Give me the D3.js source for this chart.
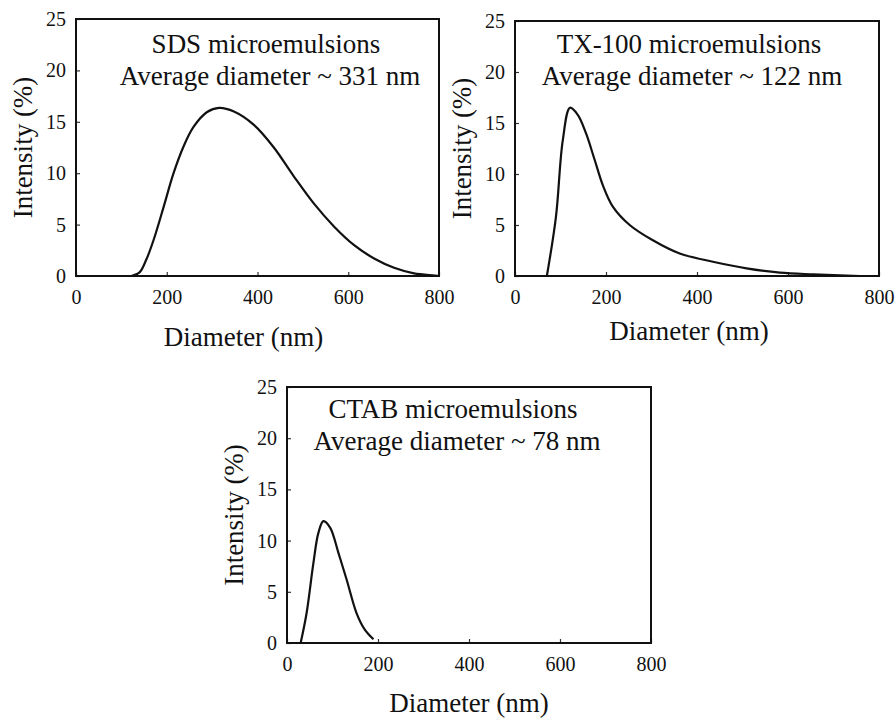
<!DOCTYPE html>
<html>
<head>
<meta charset="utf-8">
<script src="https://cdn.jsdelivr.net/npm/d3@7"></script>
<style>
  body { margin: 0; background: #fff; }
  svg text { font-family: "Liberation Serif", "Times New Roman", serif; fill: #111; }
</style>
</head>
<body>
<div class="content"></div>
<script>
// Define SVG area dimensions
var svgWidth = 896;
var svgHeight = 720;

// Data (diameter in nm, intensity in %)
var sdsDiameter = [122, 140, 155, 171, 193, 215, 237, 259, 289, 315, 348, 392, 436, 480, 524, 569, 613, 657, 701, 745, 790, 800];
var sdsIntensity = [0, 0.35, 1.6, 3.5, 6.7, 10.0, 12.6, 14.5, 15.95, 16.35, 16.0, 14.7, 12.5, 9.7, 7.06, 4.8, 3.0, 1.7, 0.8, 0.26, 0.05, 0];

var txDiameter = [70, 90, 105, 121, 138, 156, 175, 193, 215, 252, 303, 362, 435, 509, 582, 656, 758];
var txIntensity = [0, 5.8, 13.3, 16.5, 15.8, 14.0, 11.4, 8.9, 6.8, 5.0, 3.5, 2.2, 1.4, 0.75, 0.33, 0.16, 0];

var ctabDiameter = [30, 43, 58, 69, 80, 95, 113, 131, 153, 171, 190];
var ctabIntensity = [0, 2.9, 7.8, 10.75, 11.9, 11.25, 8.8, 6.2, 2.9, 1.3, 0.36];

// Axis ticks and labels
var xTicks = [0, 200, 400, 600, 800];
var yTicks = [0, 5, 10, 15, 20, 25];
var titles = ["SDS microemulsions", "TX-100 microemulsions", "CTAB microemulsions"];
var subtitles = ["Average diameter ~ 331 nm", "Average diameter ~ 122 nm", "Average diameter ~ 78 nm"];
var xLabel = "Diameter (nm)";
var yLabel = "Intensity (%)";

// Panel placement (box and text offsets)
var panels = [
  { left: 76, top: 19, width: 363, height: 257, t1x: 190, t2x: 194, tY: 34, xLabDx: -14, xLabY: 70 },
  { left: 515, top: 21, width: 364, height: 255, t1x: 174, t2x: 177, tY: 32, xLabDx: -8, xLabY: 64 },
  { left: 287, top: 387, width: 364, height: 256, t1x: 166, t2x: 170, tY: 31, xLabDx: 0, xLabY: 69 }
];
var series = [
  [sdsDiameter, sdsIntensity],
  [txDiameter, txIntensity],
  [ctabDiameter, ctabIntensity]
];

var svg = d3.select(".content")
  .append("svg")
  .attr("width", svgWidth)
  .attr("height", svgHeight);

function drawPanel(p, i) {
  var width = p.width;
  var height = p.height;

  var g = svg.append("g")
    .attr("transform", `translate(${p.left}, ${p.top})`);

  var x = d3.scaleLinear().domain([0, 800]).range([0, width]);
  var y = d3.scaleLinear().domain([0, 25]).range([height, 0]);

  // inward ticks on the bottom and left
  var bottomAxis = d3.axisBottom(x).tickValues(xTicks).tickSizeInner(-4).tickSizeOuter(0).tickPadding(13);
  var leftAxis = d3.axisLeft(y).tickValues(yTicks).tickSizeInner(-4).tickSizeOuter(0).tickPadding(10);

  var xAxis = g.append("g")
    .attr("transform", `translate(0, ${height})`)
    .call(bottomAxis);
  var yAxis = g.append("g").call(leftAxis);

  [xAxis, yAxis].forEach(function(ax) {
    ax.select(".domain").remove();
    ax.selectAll(".tick line").attr("stroke", "#333").attr("stroke-width", 1.2);
    ax.selectAll(".tick text")
      .style("font-family", "Liberation Serif, serif")
      .style("font-size", "20px")
      .attr("fill", "#111");
  });
  xAxis.selectAll(".tick text").attr("dy", "0.75em");

  // plot frame
  g.append("rect")
    .attr("x", 0)
    .attr("y", 0)
    .attr("width", width)
    .attr("height", height)
    .attr("fill", "none")
    .attr("stroke", "#111")
    .attr("stroke-width", 2);

  // curve
  var xs = series[i][0];
  var ys = series[i][1];
  var pts = xs.map(function(d, k) { return [d, ys[k]]; });
  var line = d3.line()
    .x(d => x(d[0]))
    .y(d => Math.min(y(d[1]), height))
    .curve(d3.curveCatmullRom.alpha(0.5));

  g.append("path")
    .datum(pts)
    .attr("d", line)
    .attr("fill", "none")
    .attr("stroke", "#111")
    .attr("stroke-width", 2.2)
    .attr("stroke-linejoin", "round");

  // titles inside the box
  g.append("text")
    .attr("x", p.t1x)
    .attr("y", p.tY)
    .attr("text-anchor", "middle")
    .style("font-size", "27px")
    .text(titles[i]);
  g.append("text")
    .attr("x", p.t2x)
    .attr("y", p.tY + 32)
    .attr("text-anchor", "middle")
    .style("font-size", "27px")
    .text(subtitles[i]);

  // axis labels
  g.append("text")
    .attr("x", width / 2 + p.xLabDx)
    .attr("y", height + p.xLabY)
    .attr("text-anchor", "middle")
    .style("font-size", "27px")
    .text(xLabel);
  g.append("text")
    .attr("transform", `translate(-44, ${height / 2}) rotate(-90)`)
    .attr("text-anchor", "middle")
    .style("font-size", "27px")
    .text(yLabel);
}

panels.forEach(drawPanel);
</script>
</body>
</html>
